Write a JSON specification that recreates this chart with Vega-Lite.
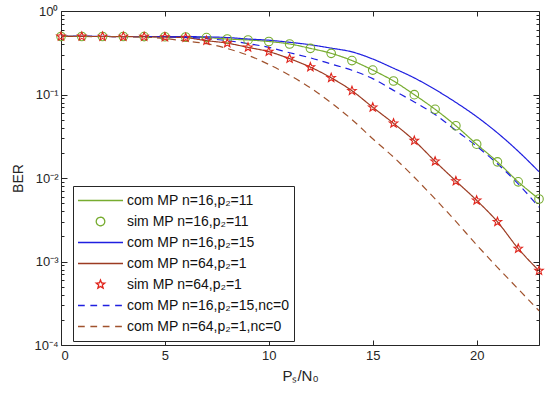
{
  "$schema": "https://vega.github.io/schema/vega-lite/v6.json",
  "autosize": "none",
  "width": 478,
  "height": 334,
  "padding": {"left": 61, "top": 11, "right": 11, "bottom": 51},
  "background": "white",
  "config": {
    "view": {"stroke": null},
    "font": "Liberation Sans",
    "axis": {"labelFont": "Liberation Sans", "titleFont": "Liberation Sans", "labelColor": "#262626", "titleColor": "#262626", "domainColor": "#262626", "tickColor": "#262626", "grid": false, "labelFontSize": 13, "titleFontWeight": "normal"},
    "legend": {"orient": "none", "legendX": 12, "legendY": 175, "strokeColor": "#262626", "fillColor": "white", "padding": 4, "symbolSize": 2025, "clipHeight": 21, "rowPadding": 0, "labelFontSize": 14, "labelFont": "Liberation Sans", "labelColor": "#111111", "labelOffset": 3, "symbolStrokeWidth": 1.3, "symbolFillColor": "transparent", "labelLimit": 300}
  },
  "data": {"values": [
    {"s":"g","x":0,"ber":0.4955},{"s":"g","x":1,"ber":0.4955},{"s":"g","x":2,"ber":0.495},{"s":"g","x":3,"ber":0.495},{"s":"g","x":4,"ber":0.494},{"s":"g","x":5,"ber":0.492},{"s":"g","x":6,"ber":0.488},{"s":"g","x":7,"ber":0.481},{"s":"g","x":8,"ber":0.462},{"s":"g","x":9,"ber":0.45},{"s":"g","x":10,"ber":0.4315},{"s":"g","x":11,"ber":0.4027},{"s":"g","x":12,"ber":0.357},{"s":"g","x":13,"ber":0.311},{"s":"g","x":14,"ber":0.255},{"s":"g","x":15,"ber":0.196},{"s":"g","x":16,"ber":0.145},{"s":"g","x":17,"ber":0.0995},{"s":"g","x":18,"ber":0.0665},{"s":"g","x":19,"ber":0.0422},{"s":"g","x":20,"ber":0.0254},{"s":"g","x":21,"ber":0.0156},{"s":"g","x":22,"ber":0.009},{"s":"g","x":23,"ber":0.0056},
    {"s":"gs","x":0,"ber":0.4955},{"s":"gs","x":1,"ber":0.4955},{"s":"gs","x":2,"ber":0.495},{"s":"gs","x":3,"ber":0.495},{"s":"gs","x":4,"ber":0.494},{"s":"gs","x":5,"ber":0.492},{"s":"gs","x":6,"ber":0.488},{"s":"gs","x":7,"ber":0.481},{"s":"gs","x":8,"ber":0.462},{"s":"gs","x":9,"ber":0.45},{"s":"gs","x":10,"ber":0.4315},{"s":"gs","x":11,"ber":0.4027},{"s":"gs","x":12,"ber":0.357},{"s":"gs","x":13,"ber":0.311},{"s":"gs","x":14,"ber":0.255},{"s":"gs","x":15,"ber":0.196},{"s":"gs","x":16,"ber":0.145},{"s":"gs","x":17,"ber":0.0995},{"s":"gs","x":18,"ber":0.0665},{"s":"gs","x":19,"ber":0.0422},{"s":"gs","x":20,"ber":0.0254},{"s":"gs","x":21,"ber":0.0156},{"s":"gs","x":22,"ber":0.009},{"s":"gs","x":23,"ber":0.0056},
    {"s":"b","x":0,"ber":0.4955},{"s":"b","x":1,"ber":0.4955},{"s":"b","x":2,"ber":0.4955},{"s":"b","x":3,"ber":0.495},{"s":"b","x":4,"ber":0.495},{"s":"b","x":5,"ber":0.494},{"s":"b","x":6,"ber":0.493},{"s":"b","x":7,"ber":0.49},{"s":"b","x":8,"ber":0.481},{"s":"b","x":9,"ber":0.462},{"s":"b","x":10,"ber":0.447},{"s":"b","x":11,"ber":0.422},{"s":"b","x":12,"ber":0.394},{"s":"b","x":13,"ber":0.359},{"s":"b","x":14,"ber":0.324},{"s":"b","x":15,"ber":0.266},{"s":"b","x":16,"ber":0.2065},{"s":"b","x":17,"ber":0.158},{"s":"b","x":18,"ber":0.1148},{"s":"b","x":19,"ber":0.0804},{"s":"b","x":20,"ber":0.0543},{"s":"b","x":21,"ber":0.0347},{"s":"b","x":22,"ber":0.0209},{"s":"b","x":23,"ber":0.0119},
    {"s":"r","x":0,"ber":0.4955},{"s":"r","x":1,"ber":0.4955},{"s":"r","x":2,"ber":0.495},{"s":"r","x":3,"ber":0.494},{"s":"r","x":4,"ber":0.492},{"s":"r","x":5,"ber":0.488},{"s":"r","x":6,"ber":0.479},{"s":"r","x":7,"ber":0.4416},{"s":"r","x":8,"ber":0.412},{"s":"r","x":9,"ber":0.367},{"s":"r","x":10,"ber":0.326},{"s":"r","x":11,"ber":0.2685},{"s":"r","x":12,"ber":0.2128},{"s":"r","x":13,"ber":0.1585},{"s":"r","x":14,"ber":0.1109},{"s":"r","x":15,"ber":0.0703},{"s":"r","x":16,"ber":0.0452},{"s":"r","x":17,"ber":0.028},{"s":"r","x":18,"ber":0.01585},{"s":"r","x":19,"ber":0.0092},{"s":"r","x":20,"ber":0.0054},{"s":"r","x":21,"ber":0.00299},{"s":"r","x":22,"ber":0.00143},{"s":"r","x":23,"ber":0.000776},
    {"s":"rs","x":0,"ber":0.4955},{"s":"rs","x":1,"ber":0.4955},{"s":"rs","x":2,"ber":0.495},{"s":"rs","x":3,"ber":0.494},{"s":"rs","x":4,"ber":0.492},{"s":"rs","x":5,"ber":0.488},{"s":"rs","x":6,"ber":0.479},{"s":"rs","x":7,"ber":0.4416},{"s":"rs","x":8,"ber":0.412},{"s":"rs","x":9,"ber":0.367},{"s":"rs","x":10,"ber":0.326},{"s":"rs","x":11,"ber":0.2685},{"s":"rs","x":12,"ber":0.2128},{"s":"rs","x":13,"ber":0.1585},{"s":"rs","x":14,"ber":0.1109},{"s":"rs","x":15,"ber":0.0703},{"s":"rs","x":16,"ber":0.0452},{"s":"rs","x":17,"ber":0.028},{"s":"rs","x":18,"ber":0.01585},{"s":"rs","x":19,"ber":0.0092},{"s":"rs","x":20,"ber":0.0054},{"s":"rs","x":21,"ber":0.00299},{"s":"rs","x":22,"ber":0.00143},{"s":"rs","x":23,"ber":0.000776},
    {"s":"bd","x":0,"ber":0.4955},{"s":"bd","x":1,"ber":0.4955},{"s":"bd","x":2,"ber":0.495},{"s":"bd","x":3,"ber":0.494},{"s":"bd","x":4,"ber":0.493},{"s":"bd","x":5,"ber":0.49},{"s":"bd","x":6,"ber":0.484},{"s":"bd","x":7,"ber":0.468},{"s":"bd","x":8,"ber":0.4416},{"s":"bd","x":9,"ber":0.407},{"s":"bd","x":10,"ber":0.367},{"s":"bd","x":11,"ber":0.316},{"s":"bd","x":12,"ber":0.275},{"s":"bd","x":13,"ber":0.232},{"s":"bd","x":14,"ber":0.195},{"s":"bd","x":15,"ber":0.155},{"s":"bd","x":16,"ber":0.112},{"s":"bd","x":17,"ber":0.0813},{"s":"bd","x":18,"ber":0.0575},{"s":"bd","x":19,"ber":0.0372},{"s":"bd","x":20,"ber":0.024},{"s":"bd","x":21,"ber":0.0148},{"s":"bd","x":22,"ber":0.0085},{"s":"bd","x":23,"ber":0.00447},
    {"s":"rd","x":0,"ber":0.4955},{"s":"rd","x":1,"ber":0.495},{"s":"rd","x":2,"ber":0.494},{"s":"rd","x":3,"ber":0.492},{"s":"rd","x":4,"ber":0.487},{"s":"rd","x":5,"ber":0.468},{"s":"rd","x":6,"ber":0.4365},{"s":"rd","x":7,"ber":0.407},{"s":"rd","x":8,"ber":0.355},{"s":"rd","x":9,"ber":0.295},{"s":"rd","x":10,"ber":0.229},{"s":"rd","x":11,"ber":0.17},{"s":"rd","x":12,"ber":0.12},{"s":"rd","x":13,"ber":0.0794},{"s":"rd","x":14,"ber":0.0501},{"s":"rd","x":15,"ber":0.0295},{"s":"rd","x":16,"ber":0.0178},{"s":"rd","x":17,"ber":0.0102},{"s":"rd","x":18,"ber":0.00562},{"s":"rd","x":19,"ber":0.00302},{"s":"rd","x":20,"ber":0.00158},{"s":"rd","x":21,"ber":0.000851},{"s":"rd","x":22,"ber":0.000468},{"s":"rd","x":23,"ber":0.000257}
  ]},
  "resolve": {"axis": {"x": "independent", "y": "independent"}},
  "layer": [
    {
      "transform": [{"filter": {"field": "s", "oneOf": ["g", "b", "r", "bd", "rd"]}}],
      "mark": {"type": "line", "strokeWidth": 1.2, "interpolate": "monotone"},
      "encoding": {
        "x": {"field": "x", "type": "quantitative", "scale": {"domain": [0, 23], "nice": false, "zero": false},
              "axis": {"orient": "bottom", "values": [0, 5, 10, 15, 20], "tickSize": -5, "labelPadding": 9, "title": "Pₛ/N₀", "titleFontSize": 15, "titlePadding": 6}},
        "y": {"field": "ber", "type": "quantitative", "scale": {"type": "log", "domain": [0.0001, 1], "nice": false},
              "axis": {"orient": "left", "title": "BER", "titleFontSize": 14, "titlePadding": 8,
                       "values": [0.0001,0.0002,0.0003,0.0004,0.0005,0.0006,0.0007,0.0008,0.0009,0.001,0.002,0.003,0.004,0.005,0.006,0.007,0.008,0.009,0.01,0.02,0.03,0.04,0.05,0.06,0.07,0.08,0.09,0.1,0.2,0.3,0.4,0.5,0.6,0.7,0.8,0.9,1],
                       "tickSize": {"condition": {"test": "indexof([1,0.1,0.01,0.001,0.0001], datum.value) >= 0", "value": -6}, "value": -3},
                       "labelPadding": 9,
                       "labelExpr": "datum.value === 1 ? '10⁰' : datum.value === 0.1 ? '10⁻¹' : datum.value === 0.01 ? '10⁻²' : datum.value === 0.001 ? '10⁻³' : datum.value === 0.0001 ? '10⁻⁴' : ''"}},
        "color": {"field": "s", "type": "nominal", "title": null,
                  "scale": {"domain": ["g", "gs", "b", "r", "rs", "bd", "rd"], "range": ["#77AC30", "#77AC30", "#1F1FE0", "#9C3B22", "#E0251C", "#1F1FE0", "#A0522D"]},
                  "legend": {"title": null, "labelExpr": "{'g':'com MP n=16,p₂=11','gs':'sim MP n=16,p₂=11','b':'com MP n=16,p₂=15','r':'com MP n=64,p₂=1','rs':'sim MP n=64,p₂=1','bd':'com MP n=16,p₂=15,nc=0','rd':'com MP n=64,p₂=1,nc=0'}[datum.value]"}},
        "strokeDash": {"field": "s", "type": "nominal", "legend": null,
                       "scale": {"domain": ["g", "gs", "b", "r", "rs", "bd", "rd"], "range": [[1, 0], [1, 0], [1, 0], [1, 0], [1, 0], [7, 5], [7, 5]]}}
      }
    },
    {
      "transform": [{"filter": {"field": "s", "oneOf": ["gs", "rs"]}}],
      "mark": {"type": "point", "filled": false, "size": 2025, "strokeWidth": 1.1, "opacity": 1},
      "encoding": {
        "x": {"field": "x", "type": "quantitative",
              "axis": {"orient": "top", "values": [0, 5, 10, 15, 20], "tickSize": -5, "labels": false, "title": null}},
        "y": {"field": "ber", "type": "quantitative",
              "axis": {"orient": "right", "title": null, "labels": false,
                       "values": [0.0001,0.0002,0.0003,0.0004,0.0005,0.0006,0.0007,0.0008,0.0009,0.001,0.002,0.003,0.004,0.005,0.006,0.007,0.008,0.009,0.01,0.02,0.03,0.04,0.05,0.06,0.07,0.08,0.09,0.1,0.2,0.3,0.4,0.5,0.6,0.7,0.8,0.9,1],
                       "tickSize": {"condition": {"test": "indexof([1,0.1,0.01,0.001,0.0001], datum.value) >= 0", "value": -6}, "value": -3}}},
        "color": {"field": "s", "type": "nominal", "title": null},
        "shape": {"field": "s", "type": "nominal", "title": null,
                  "scale": {"domain": ["g", "gs", "b", "r", "rs", "bd", "rd"],
                            "range": ["M-1,0H1", "M0.19,0A0.19,0.19,0,1,1,-0.19,0A0.19,0.19,0,1,1,0.19,0Z", "M-1,0H1", "M-1,0H1", "M0,-0.2L0.05,-0.0688L0.1902,-0.0618L0.0808,0.0263L0.1176,0.1618L0,0.085L-0.1176,0.1618L-0.0808,0.0263L-0.1902,-0.0618L-0.05,-0.0688Z", "M-1,0H-0.7M-0.45,0H-0.15M0.1,0H0.4M0.65,0H0.95", "M-1,0H-0.7M-0.45,0H-0.15M0.1,0H0.4M0.65,0H0.95"]},
                  "legend": {"title": null, "labelExpr": "{'g':'com MP n=16,p₂=11','gs':'sim MP n=16,p₂=11','b':'com MP n=16,p₂=15','r':'com MP n=64,p₂=1','rs':'sim MP n=64,p₂=1','bd':'com MP n=16,p₂=15,nc=0','rd':'com MP n=64,p₂=1,nc=0'}[datum.value]"}}
      }
    }
  ]
}
